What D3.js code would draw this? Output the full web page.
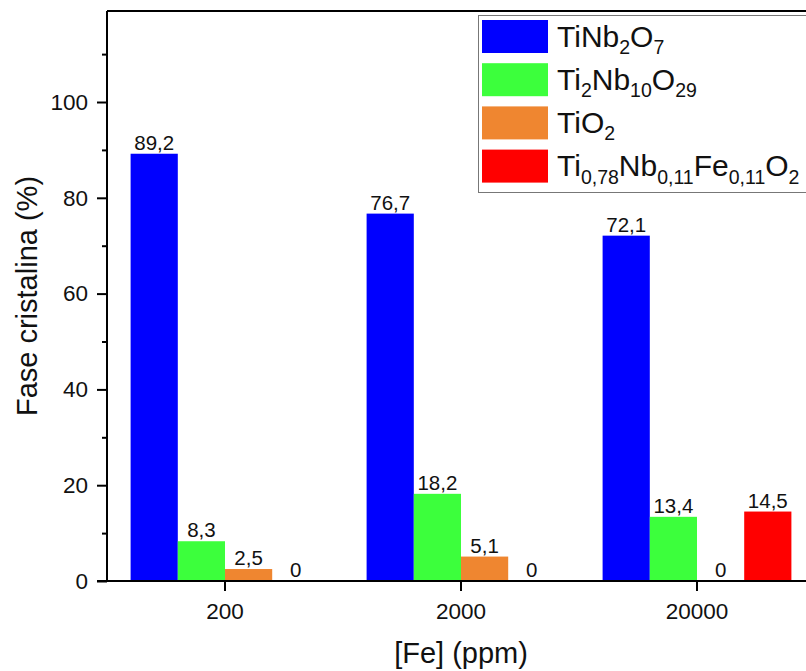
<!DOCTYPE html>
<html>
<head>
<meta charset="utf-8">
<script src="https://cdn.jsdelivr.net/npm/d3@7"></script>
<style>
  html, body { margin: 0; padding: 0; background: #fff; }
  svg { display: block; font-family: Arial, "Liberation Sans", sans-serif; }
</style>
</head>
<body>
<svg id="chart" width="806" height="671"></svg>
<script>
// Fe concentration groups (x axis)
const categories = ["200", "2000", "20000"];

// Crystalline phase fractions (%) per Fe concentration
const tiNb2O7   = [89.2, 76.7, 72.1];
const ti2Nb10O29 = [8.3, 18.2, 13.4];
const tiO2      = [2.5, 5.1, 0];
const tiNbFeO2  = [0, 0, 14.5];

const seriesKeys = ["TiNb2O7", "Ti2Nb10O29", "TiO2", "TiNbFeO2"];
const seriesValues = [tiNb2O7, ti2Nb10O29, tiO2, tiNbFeO2];
const seriesColors = ["#0000FF", "#3CFF3C", "#EF8630", "#FF0000"];

// Legend labels as [text, isSubscript] runs
const seriesLabels = [
  [["TiNb", 0], ["2", 1], ["O", 0], ["7", 1]],
  [["Ti", 0], ["2", 1], ["Nb", 0], ["10", 1], ["O", 0], ["29", 1]],
  [["TiO", 0], ["2", 1]],
  [["Ti", 0], ["0,78", 1], ["Nb", 0], ["0,11", 1], ["Fe", 0], ["0,11", 1], ["O", 0], ["2", 1]]
];

const yMajorTicks = [0, 20, 40, 60, 80, 100];
const yMinorTicks = [10, 30, 50, 70, 90, 110];

const svg = d3.select("#chart");

// plot frame
const plotLeft = 107, plotRight = 815, plotTop = 11, plotBottom = 581;

const x0 = d3.scaleBand().domain(categories).range([plotLeft, plotRight])
  .paddingInner(0.2).paddingOuter(0.1);
const x1 = d3.scaleBand().domain(seriesKeys).range([0, x0.bandwidth()]);
const y = d3.scaleLinear().domain([0, 119]).range([plotBottom, plotTop]);

const fmt = v => v === 0 ? "0" : d3.format(".1f")(v).replace(".", ",");

// bars
const rows = [];
seriesKeys.forEach((k, si) => {
  categories.forEach((c, ci) => {
    rows.push({ key: k, cat: c, value: seriesValues[si][ci], color: seriesColors[si] });
  });
});

svg.append("g").selectAll("rect").data(rows.filter(d => d.value > 0)).join("rect")
  .attr("x", d => x0(d.cat) + x1(d.key))
  .attr("y", d => y(d.value))
  .attr("width", x1.bandwidth())
  .attr("height", d => y(0) - y(d.value))
  .attr("fill", d => d.color);

// value labels
svg.append("g").selectAll("text").data(rows).join("text")
  .attr("x", d => x0(d.cat) + x1(d.key) + x1.bandwidth() / 2)
  .attr("y", d => y(d.value) - 4)
  .attr("text-anchor", "middle")
  .attr("font-size", 20.5)
  .attr("fill", "#111")
  .text(d => fmt(d.value));

// top and right frame lines
svg.append("line")
  .attr("x1", plotLeft).attr("x2", plotRight).attr("y1", plotTop).attr("y2", plotTop)
  .attr("stroke", "#000").attr("stroke-width", 2);
svg.append("line")
  .attr("x1", plotRight).attr("x2", plotRight).attr("y1", plotTop).attr("y2", plotBottom)
  .attr("stroke", "#000").attr("stroke-width", 2);

// y axis
const yAxis = svg.append("g").attr("transform", `translate(${plotLeft},0)`)
  .call(d3.axisLeft(y).tickValues(yMajorTicks).tickSize(10).tickPadding(9).tickSizeOuter(0));
yAxis.selectAll(".tick text").attr("font-size", 22.5).attr("fill", "#111")
  .style("font-family", "Arial, 'Liberation Sans', sans-serif");
yAxis.selectAll(".tick line").attr("stroke-width", 2);
yAxis.select(".domain").attr("stroke-width", 2).attr("d", `M0,${plotBottom}V${plotTop}`);

const yMinor = svg.append("g").attr("transform", `translate(${plotLeft},0)`)
  .call(d3.axisLeft(y).tickValues(yMinorTicks).tickSize(5).tickFormat(""));
yMinor.select(".domain").remove();
yMinor.selectAll(".tick line").attr("stroke-width", 2);

// x axis
const xAxis = svg.append("g").attr("transform", `translate(0,${plotBottom})`)
  .call(d3.axisBottom(x0).tickSize(10).tickPadding(12).tickSizeOuter(0));
xAxis.select(".domain").attr("stroke-width", 2).attr("d", `M${plotLeft - 10},0H${plotRight}`);
xAxis.selectAll(".tick line").attr("stroke-width", 2);
xAxis.selectAll(".tick text").attr("font-size", 22.5).attr("fill", "#111")
  .style("font-family", "Arial, 'Liberation Sans', sans-serif");

// axis titles
svg.append("text")
  .attr("x", (plotLeft + plotRight) / 2).attr("y", 663)
  .attr("text-anchor", "middle").attr("font-size", 29).attr("fill", "#111")
  .text("[Fe] (ppm)");

svg.append("text")
  .attr("transform", `translate(37,${(plotTop + plotBottom) / 2}) rotate(-90)`)
  .attr("text-anchor", "middle").attr("font-size", 29).attr("fill", "#111")
  .text("Fase cristalina (%)");

// legend
const legend = svg.append("g");
legend.append("rect")
  .attr("x", 478.5).attr("y", 15.5).attr("width", 360).attr("height", 177)
  .attr("fill", "#fff").attr("stroke", "#777").attr("stroke-width", 1);

seriesLabels.forEach((runs, i) => {
  const cy = 36.5 + i * 43.2;
  legend.append("rect")
    .attr("x", 482).attr("y", cy - 16.5).attr("width", 66).attr("height", 33)
    .attr("fill", seriesColors[i]);
  const t = legend.append("text")
    .attr("x", 557).attr("y", cy + 10).attr("font-size", 30).attr("fill", "#111");
  let prevSub = 0;
  runs.forEach(([s, sub]) => {
    t.append("tspan")
      .attr("dy", sub === prevSub ? 0 : (sub ? 7.5 : -7.5))
      .attr("font-size", sub ? 19.5 : 30)
      .text(s);
    prevSub = sub;
  });
});
</script>
</body>
</html>
